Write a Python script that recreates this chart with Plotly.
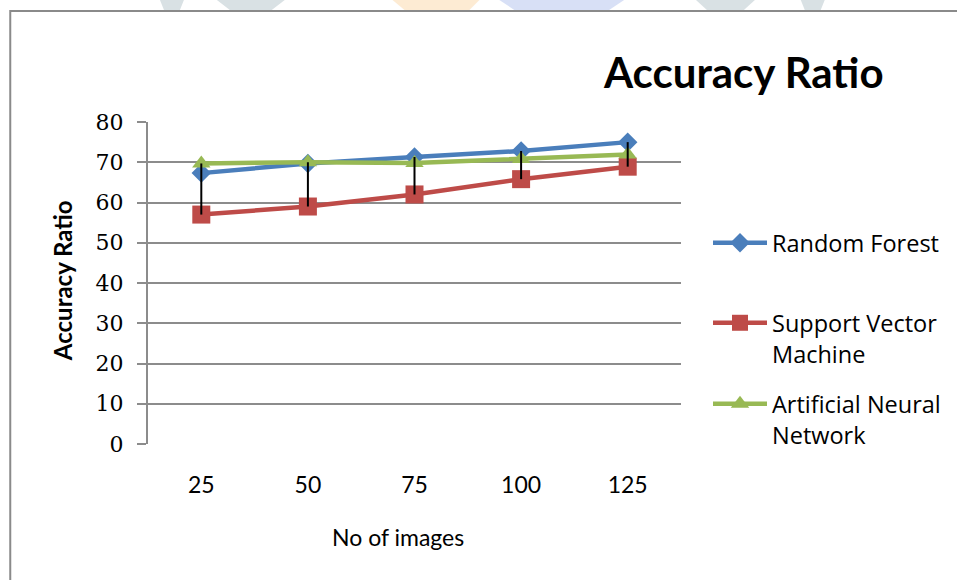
import plotly.graph_objects as go

# Data
images = ["25", "50", "75", "100", "125"]
random_forest = [67.3, 69.7, 71.3, 72.8, 75.0]
svm = [57.0, 59.0, 62.0, 65.8, 68.9]
ann = [69.7, 70.0, 69.8, 70.8, 71.9]
y_ticks = [0, 10, 20, 30, 40, 50, 60, 70, 80]

series = [
    ("Random Forest", random_forest, "#4A7EBB", "diamond", 15, "legend"),
    ("Support Vector<br>Machine", svm, "#BE4B48", "square", 18, "legend2"),
    ("Artificial Neural<br>Network", ann, "#98B954", "triangle-up", 16, "legend3"),
]

# plot area in pixels
W, H = 957, 580
L, R, T, B = 148, 682, 122, 444


def px(x):
    return (x - L) / (R - L)


def py(y):
    return (B - y) / (B - T)


fig = go.Figure()

for name, vals, color, sym, size, leg in series:
    fig.add_trace(go.Scatter(
        x=images, y=vals, name=name, mode="lines+markers",
        line=dict(color=color, width=4.5),
        marker=dict(symbol=sym, size=size, color=color),
        legend=leg,
    ))

# high-low lines between the highest and lowest value at each category
hx, hy = [], []
for i, cat in enumerate(images):
    col = [s[1][i] for s in series]
    hx += [cat, cat, None]
    hy += [max(col), min(col), None]
fig.add_trace(go.Scatter(x=hx, y=hy, mode="lines", showlegend=False,
                         line=dict(color="black", width=2), hoverinfo="skip"))

legend_font = dict(family="Open Sans", size=23.5, color="black")
leg_common = dict(xanchor="left", yanchor="top", bgcolor="rgba(0,0,0,0)",
                  font=legend_font, itemwidth=54, valign="top")

fig.update_layout(
    width=W, height=H,
    margin=dict(l=L, r=W - R, t=T, b=H - B),
    paper_bgcolor="white", plot_bgcolor="white",
    legend=dict(x=px(708), y=py(221), **leg_common),
    legend2=dict(x=px(708), y=py(301), **leg_common),
    legend3=dict(x=px(708), y=py(382), **leg_common),
    xaxis=dict(
        type="category", range=[-0.5, 4.5], showgrid=False,
        showline=False, ticks="", zeroline=False,
        tickfont=dict(family="Lato", size=23, color="black"),
        ticklabelstandoff=25,
    ),
    yaxis=dict(
        range=[0, 80], tickvals=y_ticks, showgrid=True,
        gridcolor="#8C8C8C", gridwidth=2,
        showline=True, linecolor="#8C8C8C", linewidth=2,
        ticks="outside", ticklen=9, tickcolor="#8C8C8C", tickwidth=2,
        zeroline=False,
        tickfont=dict(family="DejaVu Serif", size=22, color="black"),
        ticklabelstandoff=9,
    ),
    showlegend=True,
)

annotations = [
    dict(text="<b>Accuracy Ratio</b>", x=px(745), y=py(72),
         font=dict(family="Lato", size=42, color="black")),
    dict(text="<b>Accuracy Ratio</b>", x=px(62), y=py(281), textangle=-90,
         font=dict(family="Lato", size=24, color="black")),
    dict(text="No of images", x=px(398), y=py(537),
         font=dict(family="Lato", size=23, color="black")),
]
for a in annotations:
    fig.add_annotation(xref="paper", yref="paper", showarrow=False,
                       xanchor="center", yanchor="middle", **a)

# outer chart border
fig.add_shape(type="rect", xref="paper", yref="paper",
              x0=px(10), y0=py(600), x1=px(980), y1=py(11),
              line=dict(color="#8A8A8A", width=2), layer="below")

# faint header artwork above the chart frame
header = [
    ((160, 184, 180, 164), "#D9E1E4"),
    ((217, 285, 272, 230), "#D9E1E4"),
    ((393, 480, 470, 405), "#FDEBD3"),
    ((500, 625, 610, 515), "#D8E0F6"),
    ((697, 756, 745, 708), "#D9E1E4"),
    ((802, 826, 822, 806), "#D9E1E4"),
]
for (a, b, c, d), col in header:
    path = (f"M{px(a)},{py(0)} L{px(b)},{py(0)} "
            f"L{px(c)},{py(10)} L{px(d)},{py(10)} Z")
    fig.add_shape(type="path", xref="paper", yref="paper", path=path,
                  fillcolor=col, line=dict(width=0), layer="below")

fig.write_html("out.html")
